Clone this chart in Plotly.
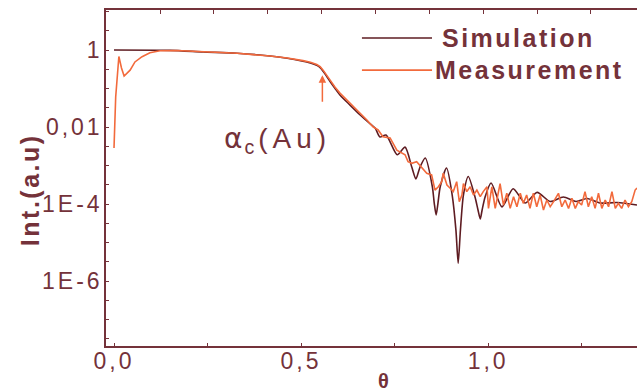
import math
import plotly.graph_objects as go

# ---- data -------------------------------------------------------------
sim_theta = [0.000, 0.150, 0.238, 0.329, 0.417, 0.463, 0.505, 0.525, 0.542, 0.551,
             0.559, 0.568, 0.578, 0.591,
             0.604, 0.631, 0.658, 0.679, 0.698, 0.711, 0.727, 0.757, 0.778, 0.796,
             0.807, 0.818, 0.832, 0.851, 0.856, 0.861, 0.866, 0.872, 0.889, 0.904,
             0.914, 0.920, 0.926, 0.934, 0.947, 0.965, 0.973, 0.979, 0.984, 0.992,
             1.008, 1.037, 1.067, 1.099, 1.131, 1.166, 1.201, 1.235, 1.265, 1.299,
             1.345, 1.398]
sim_int = [1.00, 0.98, 0.89, 0.82, 0.70, 0.61, 0.51, 0.46, 0.40, 0.35,
           0.28, 0.21, 0.150, 0.100,
           0.068, 0.037, 0.0205, 0.0135, 0.0094, 0.0055, 0.0062, 0.0019, 0.0030, 9.1e-4,
           4.5e-4, 9.1e-4, 1.57e-3, 2.8e-4, 1.06e-4, 5.2e-5, 1.06e-4, 2.8e-4, 8.6e-4, 1.71e-4,
           2.1e-5, 2.9e-6, 2.1e-5, 1.71e-4, 5.2e-4, 1.52e-4, 7.0e-5, 4.1e-5, 7.0e-5, 1.52e-4,
           3.5e-4, 8.4e-5, 2.5e-4, 1.06e-4, 2.0e-4, 1.16e-4, 1.52e-4, 1.16e-4, 1.39e-4, 1.06e-4,
           1.09e-4, 9.4e-5]

meas_theta = [0.000, 0.0045, 0.013, 0.020, 0.027, 0.043, 0.056, 0.075, 0.096, 0.123,
              0.168, 0.238, 0.329, 0.417, 0.463, 0.505, 0.525, 0.542, 0.551, 0.559,
              0.568, 0.578, 0.591, 0.604, 0.631,
              0.658, 0.676, 0.693, 0.706, 0.719, 0.738, 0.756, 0.773, 0.778, 0.786,
              0.796, 0.809, 0.823, 0.836, 0.849, 0.858, 0.867, 0.876, 0.880, 0.890,
              0.898, 0.907, 0.916, 0.923, 0.930, 0.934, 0.943, 0.952, 0.961, 0.970,
              0.979, 0.987, 0.997, 1.001, 1.010, 1.019, 1.032, 1.041, 1.050, 1.059,
              1.068, 1.077, 1.086, 1.094, 1.103, 1.112, 1.121, 1.130, 1.139, 1.148,
              1.157, 1.166, 1.175, 1.188, 1.197, 1.206, 1.215, 1.224, 1.233, 1.241,
              1.250, 1.259, 1.268, 1.277, 1.286, 1.295, 1.304, 1.313, 1.322, 1.331,
              1.340, 1.348, 1.357, 1.366, 1.375, 1.384, 1.393, 1.398]
meas_int = [2.85e-3, 0.060, 0.68, 0.34, 0.21, 0.30, 0.49, 0.67, 0.85, 0.96,
            0.97, 0.89, 0.82, 0.70, 0.62, 0.53, 0.48, 0.42, 0.37, 0.30,
            0.22, 0.166, 0.108, 0.076, 0.042,
            0.0218, 0.0152, 0.0100, 0.0084, 0.0056, 0.0052, 0.0025, 0.0021, 0.0019, 0.00126,
            0.00114, 0.00126, 8.5e-4, 6.3e-4, 5.7e-4, 2.3e-4, 2.8e-4, 3.8e-4, 6.3e-4, 3.1e-4,
            2.6e-4, 2.1e-4, 3.8e-4, 1.15e-4, 1.71e-4, 3.4e-4, 2.1e-4, 2.8e-4, 1.71e-4, 2.3e-4,
            1.55e-4, 2.1e-4, 2.8e-4, 7.7e-5, 2.8e-4, 7.7e-5, 3.4e-4, 9.4e-5, 1.90e-4, 7.7e-5,
            1.55e-4, 8.5e-5, 1.90e-4, 1.04e-4, 1.71e-4, 7.7e-5, 1.90e-4, 8.5e-5, 1.71e-4, 7.0e-5,
            1.27e-4, 8.5e-5, 1.15e-4, 1.90e-4, 8.5e-5, 1.27e-4, 7.7e-5, 1.41e-4, 7.7e-5, 1.15e-4,
            9.4e-5, 2.1e-4, 8.5e-5, 1.55e-4, 7.7e-5, 1.90e-4, 7.7e-5, 1.27e-4, 8.5e-5, 2.1e-4,
            7.7e-5, 1.04e-4, 7.7e-5, 1.27e-4, 8.5e-5, 1.15e-4, 2.3e-4, 2.6e-4]

x_tick_vals = [0.0, 0.25, 0.5, 0.75, 1.0, 1.25]
x_tick_text = ["0,0", "", "0,5", "", "1,0", ""]
top_tick_vals = [0.123, 0.267, 0.411, 0.555, 0.699, 0.843, 0.987, 1.131, 1.275]
y_tick_exp = [k / 2 for k in range(-15, 3)]
y_label_map = {0.0: "1", -2.0: "0,01", -4.0: "1E-4", -6.0: "1E-6"}

critical_angle = 0.557
critical_int = 0.22

# ---- style ------------------------------------------------------------
MAROON = "#74323a"
SIM_COLOR = "#5e1c22"
MEAS_COLOR = "#f26a3c"
FONT = "Liberation Sans, Arial, sans-serif"


def spaced(txt, px):
    return f'<span style="letter-spacing:{px}px">{txt}</span>' if txt else ""


fig = go.Figure()
fig.add_trace(go.Scatter(x=sim_theta, y=sim_int, mode="lines",
                         line=dict(color=SIM_COLOR, width=1.6, shape="spline", smoothing=0.7),
                         name="Simulation", showlegend=False))
fig.add_trace(go.Scatter(x=meas_theta, y=meas_int, mode="lines",
                         line=dict(color=MEAS_COLOR, width=1.6),
                         name="Measurement", showlegend=False))
# invisible trace to carry the top axis
fig.add_trace(go.Scatter(x=[meas_theta[0]], y=[meas_int[0]], xaxis="x2", mode="markers",
                         marker=dict(opacity=0), showlegend=False, hoverinfo="skip"))

y_tick_vals = [10 ** e for e in y_tick_exp]
y_tick_text = [spaced(y_label_map.get(e, ""), 3) for e in y_tick_exp]

fig.update_layout(
    width=637, height=392,
    margin=dict(l=106, r=0, t=10, b=46),
    paper_bgcolor="white", plot_bgcolor="white",
    font=dict(family=FONT, color=MAROON),
    xaxis=dict(range=[-0.0214, 1.398], showgrid=False, zeroline=False,
               showline=True, linecolor=MAROON, linewidth=1.5,
               ticks="inside", ticklen=3, tickcolor=MAROON,
               tickmode="array", tickvals=x_tick_vals,
               ticktext=[spaced(t, 3) for t in x_tick_text],
               ticklabelstandoff=-6,
               tickfont=dict(size=23, color=MAROON, family=FONT)),
    xaxis2=dict(overlaying="x", side="top", range=[-0.0214, 1.398],
                showgrid=False, zeroline=False, showline=True,
                linecolor=MAROON, linewidth=1.5,
                ticks="inside", ticklen=4, tickcolor=MAROON,
                tickmode="array", tickvals=top_tick_vals, showticklabels=False),
    yaxis=dict(type="log", range=[-7.688, 1.039], showgrid=False, zeroline=False,
               showline=True, linecolor=MAROON, linewidth=1.5,
               ticks="inside", ticklen=3, tickcolor=MAROON,
               tickmode="array", tickvals=y_tick_vals, ticktext=y_tick_text,
               ticklabelstandoff=-3,
               tickfont=dict(size=23, color=MAROON, family=FONT)),
)

# legend drawn as line samples plus spaced bold labels
legend_rows = [("Simulation", SIM_COLOR, 0.9167, 0.629),
               ("Measurement", MEAS_COLOR, 0.821, 0.616)]
for label, color, yp, xtext in legend_rows:
    fig.add_shape(type="line", xref="paper", yref="paper",
                  x0=0.482, x1=0.614, y0=yp, y1=yp,
                  line=dict(color=color, width=1.6))
    fig.add_annotation(xref="paper", yref="paper", x=xtext, y=yp,
                       xanchor="left", yanchor="middle", showarrow=False,
                       text=f"<b>{spaced(label, 2.5)}</b>",
                       font=dict(size=25, color=MAROON, family=FONT))

# critical-angle marker
fig.add_annotation(x=critical_angle, y=math.log10(critical_int), xref="x", yref="y",
                   ax=0, ay=28, showarrow=True, arrowhead=2, arrowsize=1,
                   arrowwidth=1.5, arrowcolor=MEAS_COLOR, text="")

fig.add_annotation(xref="paper", yref="paper", x=0.218, y=0.613,
                   xanchor="left", yanchor="middle", showarrow=False,
                   text=('<span style="font-family:DejaVu Sans;letter-spacing:2px">α</span>'
                         '<sub><span style="letter-spacing:4px">c</span></sub>'
                         + spaced("(Au)", 5)),
                   font=dict(size=28, color=MAROON, family=FONT))

# axis titles
fig.add_annotation(xref="paper", yref="paper", x=-0.143, y=0.464,
                   xanchor="center", yanchor="middle",
                   textangle=-90, showarrow=False,
                   text="<b>" + spaced("Int.(a.u)", 2.5) + "</b>",
                   font=dict(size=25, color=MAROON, family=FONT))
fig.add_annotation(xref="paper", yref="paper", x=0.522, y=-0.104,
                   xanchor="center", yanchor="middle",
                   showarrow=False, text="<b>θ</b>",
                   font=dict(size=20, color=MAROON, family=FONT))

fig.write_html("out.html")
